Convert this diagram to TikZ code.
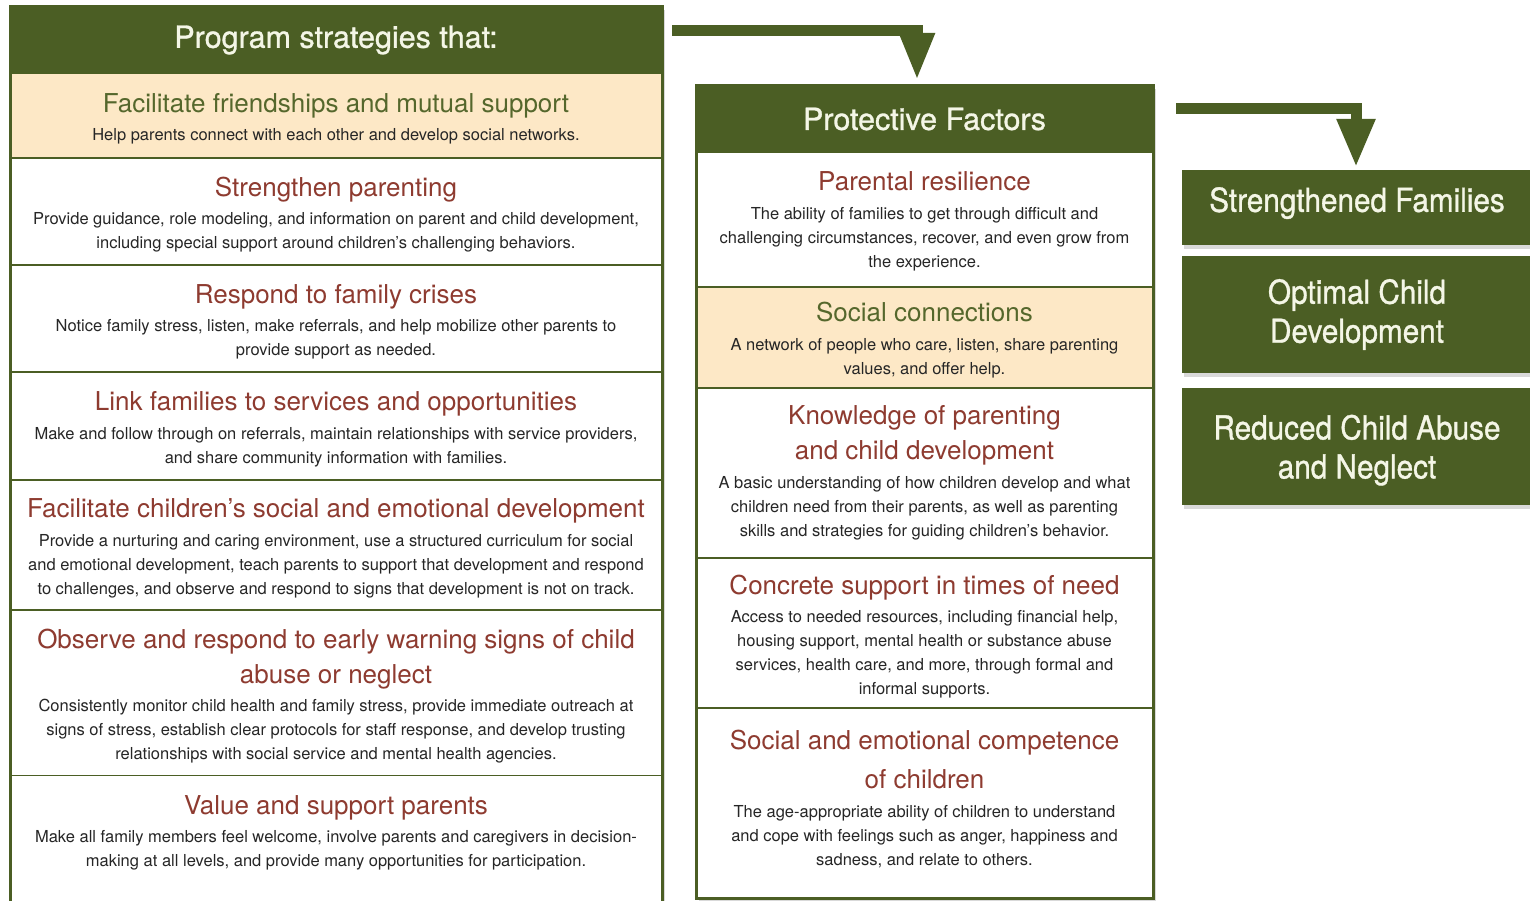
\documentclass[tikz,border=0pt]{standalone}
\usepackage{fontspec}
\setmainfont{TeX Gyre Heros}
\newfontfamily\headfont{TeX Gyre Heros}[FakeBold=1]
\newfontfamily\outcomefont{TeX Gyre Heros}[FakeStretch=0.9, FakeBold=1]
\usetikzlibrary{positioning,shadows,arrows.meta,backgrounds}

\definecolor{gdark}{HTML}{4B5E24}
\definecolor{peach}{HTML}{FDE8C6}
\definecolor{ttlred}{HTML}{8E3B30}
\definecolor{ttlgreen}{HTML}{55672C}
\definecolor{desctext}{HTML}{262626}
\definecolor{cream}{HTML}{F4F6E6}

\setlength\lineskiplimit{-100pt}
% optional argument: strut height, pushes the text block down
\newcommand\ttl[2][0pt]{{\rule{0pt}{#1}\fontsize{26}{24}\selectfont\color{ttlred}#2}}
\newcommand\ttlg[2][0pt]{{\rule{0pt}{#1}\fontsize{26}{24}\selectfont\color{ttlgreen}#2}}

\tikzset{
  colhead/.style={fill=gdark, text=cream, font=\headfont\fontsize{30.5}{36}\selectfont, minimum height=66pt, inner sep=0pt, outer sep=0pt},
  strat/.style={draw=gdark, line width=1.5pt, fill=white, align=center, text=desctext, font=\fontsize{16.5}{24}\selectfont, inner sep=0pt, outer sep=0pt, minimum width=652pt, minimum height=#1},
  factor/.style={strat=#1, minimum width=457pt},
  hilite/.style={fill=peach},
  pushup/.style={execute at end node={\rule[-#1]{0pt}{0pt}}},
  outcome/.style={fill=gdark, text=cream, align=center, font=\outcomefont\fontsize{33}{39}\selectfont, minimum width=350pt, minimum height=#1, inner sep=0pt, outer sep=0pt, drop shadow={shadow xshift=2pt, shadow yshift=-4pt, opacity=0.3}},
  colframe/.style={draw=gdark, line width=3pt},
  bentarrow/.style={draw=gdark, line width=11pt, line join=miter, preaction={draw=black, opacity=0.2, transform canvas={shift={(2pt,-3pt)}}}},
}

\begin{document}
\begin{tikzpicture}[x=1pt,y=1pt]
\useasboundingbox (0,0) rectangle (1530,-901);

% program strategies
\node[colhead, minimum width=652pt] (lhead) at (336,-40) {Program strategies that:};
\node[strat=85pt, hilite, below=0pt of lhead] (r1) {\ttlg[26pt]{Facilitate friendships and mutual support}\\[4.5pt]
  Help parents connect with each other and develop social networks.};
\node[strat=107pt, below=0pt of r1] (r2) {\ttl[26pt]{Strengthen parenting}\\[4.5pt]
  Provide guidance, role modeling, and information on parent and child development,\\
  including special support around children’s challenging behaviors.};
\node[strat=107pt, below=0pt of r2] (r3) {\ttl[26pt]{Respond to family crises}\\[4.5pt]
  Notice family stress, listen, make referrals, and help mobilize other parents to\\
  provide support as needed.};
\node[strat=108pt, below=0pt of r3] (r4) {\ttl[26pt]{Link families to services and opportunities}\\[4.5pt]
  Make and follow through on referrals, maintain relationships with service providers,\\
  and share community information with families.};
\node[strat=130pt, below=0pt of r4] (r5) {\ttl[26pt]{Facilitate children’s social and emotional development}\\[4.5pt]
  Provide a nurturing and caring environment, use a structured curriculum for social\\
  and emotional development, teach parents to support that development and respond\\
  to challenges, and observe and respond to signs that development is not on track.};
\node[strat=166pt, below=0pt of r5] (r6) {\ttl[26pt]{Observe and respond to early warning signs of child}\\[11pt]
  \ttl{abuse or neglect}\\[4.5pt]
  Consistently monitor child health and family stress, provide immediate outreach at\\
  signs of stress, establish clear protocols for staff response, and develop trusting\\
  relationships with social service and mental health agencies.};
\node[strat=114pt, draw=none, below=0pt of r6] (r7) {\ttl{Value and support parents}\\[4.5pt]
  Make all family members feel welcome, involve parents and caregivers in decision-\\
  making at all levels, and provide many opportunities for participation.};
\draw[colframe] (lhead.north west) rectangle ([yshift=-20pt]r7.south east);

% protective factors
\node[colhead, minimum width=457pt] (mhead) at (924.5,-119) {Protective Factors};
\node[factor=135pt, below=0pt of mhead] (m1) {\ttl[23pt]{Parental resilience}\\[4.5pt]
  The ability of families to get through difficult and\\
  challenging circumstances, recover, and even grow from\\
  the experience.};
\node[factor=101pt, hilite, below=0pt of m1] (m2) {\ttlg[25pt]{Social connections}\\[4.5pt]
  A network of people who care, listen, share parenting\\
  values, and offer help.};
\node[factor=170pt, below=0pt of m2] (m3) {\ttl{Knowledge of parenting}\\[11pt]
  \ttl{and child development}\\[4.5pt]
  A basic understanding of how children develop and what\\
  children need from their parents, as well as parenting\\
  skills and strategies for guiding children’s behavior.};
\node[factor=150pt, below=0pt of m3] (m4) {\ttl[27pt]{Concrete support in times of need}\\[4.5pt]
  Access to needed resources, including financial help,\\
  housing support, mental health or substance abuse\\
  services, health care, and more, through formal and\\
  informal supports.};
\node[factor=190pt, pushup=10pt, below=0pt of m4] (m5) {\ttl{Social and emotional competence}\\[15pt]
  \ttl{of children}\\[4.5pt]
  The age-appropriate ability of children to understand\\
  and cope with feelings such as anger, happiness and\\
  sadness, and relate to others.};
\draw[colframe] (mhead.north west) rectangle (m5.south east);

% outcomes
\node[outcome=75pt, pushup=16pt] (b1) at (1357,-207.5) {Strengthened Families};
\node[outcome=117pt, below=11pt of b1] (b2) {Optimal Child\\ Development};
\node[outcome=117pt, below=15pt of b2] (b3) {\rule{0pt}{32pt}Reduced Child Abuse\\ and Neglect};

% column shadows
\begin{scope}[on background layer]
  \path[fill=white, drop shadow={shadow xshift=3pt, shadow yshift=-3pt, opacity=0.3}] (lhead.north west) rectangle ([yshift=-20pt]r7.south east);
  \path[fill=white, drop shadow={shadow xshift=3pt, shadow yshift=-3pt, opacity=0.3}] (mhead.north west) rectangle (m5.south east);
\end{scope}

% arrows
\coordinate (a1s) at ([xshift=10pt,yshift=9.5pt]lhead.east);
\coordinate (a2s) at ([xshift=23pt,yshift=10.5pt]mhead.east);
\draw[bentarrow, -{Triangle[width=33pt,length=47pt]}] (a1s) -| ([xshift=-7.5pt,yshift=6pt]mhead.north);
\draw[bentarrow, -{Triangle[width=36pt,length=48pt]}] (a2s) -| ([xshift=-1pt,yshift=3pt]b1.north);
\end{tikzpicture}
\end{document}
